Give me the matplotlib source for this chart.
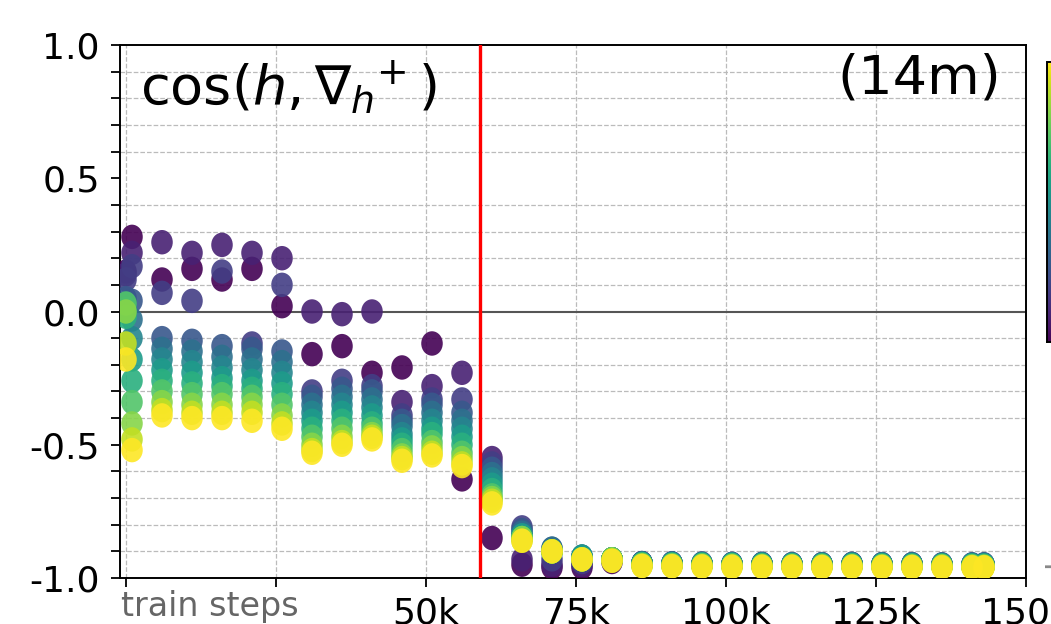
import numpy as np
import matplotlib
matplotlib.use("Agg")
import matplotlib.pyplot as plt
from matplotlib.path import Path
from matplotlib.cm import ScalarMappable
from matplotlib.colors import Normalize

plt.rcParams['axes.unicode_minus'] = False

# train steps (x) and cosine values, one list of 12 layers per step (layer 0 = darkest)
steps = [0, 1000, 6000, 11000, 16000, 21000, 26000, 31000, 36000, 41000, 46000,
         51000, 56000, 61000, 66000, 71000, 76000, 81000, 86000, 91000, 96000,
         101000, 106000, 111000, 116000, 121000, 126000, 131000, 136000, 141000, 143000]

cos_values = [
    [0.15, 0.14, 0.12, 0.05, 0.03, 0.01, 0.00, -0.02, 0.03, 0.00, -0.12, -0.18],
    [0.28, 0.22, 0.17, 0.04, -0.03, -0.10, -0.18, -0.26, -0.34, -0.42, -0.48, -0.52],
    [0.12, 0.26, 0.07, -0.10, -0.14, -0.18, -0.22, -0.26, -0.30, -0.34, -0.37, -0.39],
    [0.16, 0.22, 0.04, -0.11, -0.15, -0.19, -0.23, -0.27, -0.31, -0.35, -0.38, -0.40],
    [0.12, 0.25, 0.15, -0.13, -0.17, -0.21, -0.25, -0.28, -0.31, -0.35, -0.38, -0.40],
    [0.16, 0.22, -0.12, -0.14, -0.18, -0.22, -0.26, -0.29, -0.32, -0.35, -0.38, -0.41],
    [0.02, 0.20, 0.10, -0.15, -0.19, -0.23, -0.27, -0.31, -0.35, -0.39, -0.42, -0.44],
    [-0.16, 0.00, -0.30, -0.32, -0.35, -0.38, -0.41, -0.44, -0.47, -0.50, -0.52, -0.53],
    [-0.13, -0.01, -0.26, -0.29, -0.32, -0.35, -0.38, -0.41, -0.44, -0.47, -0.49, -0.50],
    [-0.23, 0.00, -0.28, -0.30, -0.33, -0.36, -0.39, -0.42, -0.44, -0.46, -0.47, -0.48],
    [-0.21, -0.34, -0.39, -0.41, -0.43, -0.46, -0.48, -0.50, -0.52, -0.54, -0.55, -0.56],
    [-0.12, -0.28, -0.33, -0.35, -0.38, -0.41, -0.44, -0.46, -0.49, -0.51, -0.53, -0.54],
    [-0.63, -0.23, -0.33, -0.38, -0.41, -0.44, -0.47, -0.50, -0.53, -0.55, -0.57, -0.58],
    [-0.85, -0.55, -0.57, -0.59, -0.61, -0.63, -0.65, -0.67, -0.69, -0.70, -0.71, -0.72],
    [-0.95, -0.93, -0.81, -0.82, -0.83, -0.84, -0.84, -0.85, -0.85, -0.85, -0.86, -0.86],
    [-0.96, -0.95, -0.93, -0.89, -0.89, -0.90, -0.90, -0.90, -0.90, -0.90, -0.90, -0.90],
    [-0.96, -0.95, -0.94, -0.92, -0.92, -0.92, -0.92, -0.93, -0.93, -0.93, -0.93, -0.93],
    [-0.94, -0.93, -0.93, -0.93, -0.93, -0.93, -0.93, -0.93, -0.93, -0.93, -0.935, -0.935],
    [-0.945, -0.945, -0.944, -0.944, -0.945, -0.946, -0.947, -0.948, -0.950, -0.952, -0.954, -0.955],
    [-0.948, -0.946, -0.945, -0.945, -0.946, -0.947, -0.948, -0.950, -0.951, -0.953, -0.955, -0.956],
    [-0.950, -0.948, -0.946, -0.946, -0.947, -0.948, -0.949, -0.950, -0.952, -0.954, -0.956, -0.957],
    [-0.951, -0.949, -0.947, -0.947, -0.948, -0.949, -0.950, -0.951, -0.953, -0.955, -0.957, -0.958],
    [-0.951, -0.949, -0.947, -0.947, -0.948, -0.949, -0.950, -0.952, -0.954, -0.955, -0.957, -0.958],
    [-0.952, -0.950, -0.948, -0.948, -0.949, -0.950, -0.951, -0.952, -0.954, -0.956, -0.957, -0.958],
    [-0.952, -0.950, -0.948, -0.948, -0.949, -0.950, -0.951, -0.953, -0.954, -0.956, -0.958, -0.959],
    [-0.951, -0.949, -0.947, -0.947, -0.948, -0.949, -0.951, -0.952, -0.954, -0.956, -0.957, -0.958],
    [-0.952, -0.950, -0.948, -0.948, -0.949, -0.950, -0.951, -0.953, -0.955, -0.956, -0.958, -0.959],
    [-0.952, -0.950, -0.948, -0.948, -0.949, -0.950, -0.952, -0.953, -0.955, -0.957, -0.958, -0.959],
    [-0.953, -0.951, -0.949, -0.949, -0.950, -0.951, -0.952, -0.954, -0.955, -0.957, -0.958, -0.960],
    [-0.953, -0.951, -0.949, -0.949, -0.950, -0.951, -0.952, -0.954, -0.956, -0.957, -0.959, -0.960],
    [-0.953, -0.951, -0.949, -0.949, -0.950, -0.951, -0.953, -0.954, -0.956, -0.958, -0.959, -0.960],
]

x_ticks = [0, 25000, 50000, 75000, 100000, 125000, 150000]
x_tick_labels = ['', '', '50k', '75k', '100k', '125k', '150k']
y_ticks = [1.0, 0.5, 0.0, -0.5, -1.0]
y_tick_labels = ['1.0', '0.5', '0.0', '-0.5', '-1.0']
red_line_step = 59000

fig = plt.figure(figsize=(10.51, 6.24), dpi=100)
ax = fig.add_axes([120/1051, 46/624, 906/1051, 533/624])

# slightly tall ellipse marker
circ = Path.unit_circle()
marker = Path(circ.vertices * np.array([0.88, 1.0]), circ.codes)

n_layers = len(cos_values[0])
vals = np.array(cos_values)
for layer in range(n_layers):
    ax.scatter(steps, vals[:, layer], c=[layer] * len(steps), cmap='viridis',
               vmin=0, vmax=n_layers - 1, s=310, marker=marker, alpha=0.9,
               linewidths=0, zorder=3)

ax.axhline(0, color='#555555', lw=1.5, zorder=2)
ax.axvline(red_line_step, color='red', lw=2.4, zorder=4)

ax.set_xlim(-1000, 150000)
ax.set_ylim(-1.0, 1.0)
ax.set_xticks(x_ticks)
ax.set_xticklabels(x_tick_labels)
ax.set_yticks(y_ticks)
ax.set_yticklabels(y_tick_labels)
ax.set_yticks(np.arange(-1.0, 1.01, 0.1), minor=True)
ax.tick_params(axis='both', labelsize=26, length=6.5, width=1.3)
ax.tick_params(axis='x', pad=7)
ax.tick_params(axis='y', pad=8)
ax.tick_params(axis='y', which='minor', length=6.5, width=1.3)
ax.grid(True, which='major', axis='x', ls='--', color='#bbbbbb', lw=0.9)
ax.grid(True, which='minor', axis='y', ls='--', color='#bbbbbb', lw=0.9)
for sp in ax.spines.values():
    sp.set_linewidth(1.4)

ax.text(0.022, 0.975, r'$\cos(h, {\nabla_h}^{+}\,)$', transform=ax.transAxes,
        fontsize=39, va='top', ha='left')
ax.text(0.972, 0.985, '(14m)', transform=ax.transAxes, fontsize=39,
        va='top', ha='right')
ax.text(0.001, -0.022, 'train steps', transform=ax.transAxes, fontsize=24,
        color='#666666', va='top', ha='left')

# colorbar, mostly cut off at the right edge
cax = fig.add_axes([1047/1051, (624-342)/624, 0.03, 280/624])
cb = fig.colorbar(ScalarMappable(norm=Normalize(0, n_layers - 1), cmap='viridis'), cax=cax)
cb.set_ticks([])
cb.outline.set_linewidth(1.4)
fig.text(1043/1051, 56/624, 'layer', rotation=90, fontsize=22, color='#888888',
         ha='left', va='bottom')

fig.savefig('out.png', dpi=100)
